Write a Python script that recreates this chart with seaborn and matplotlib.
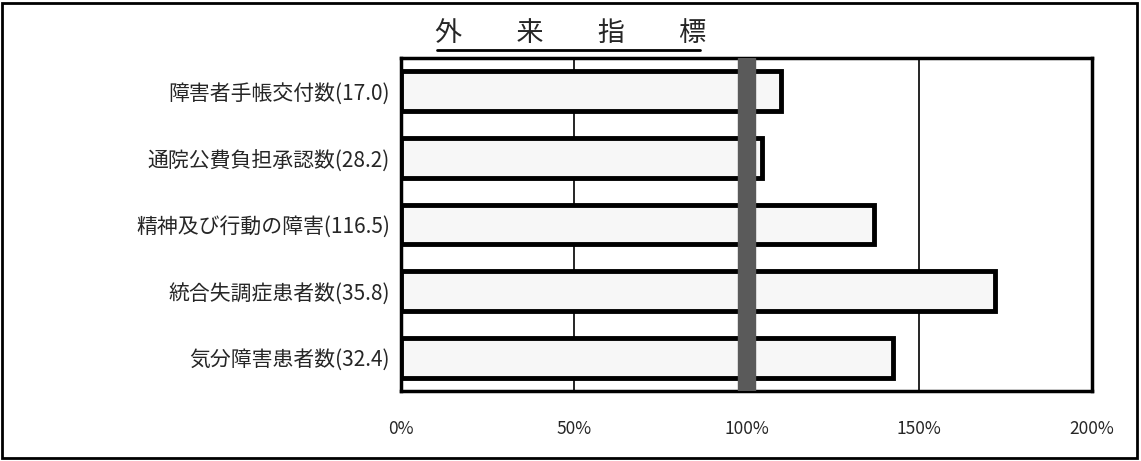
import pandas as pd
import matplotlib.pyplot as plt
import seaborn as sns
from matplotlib.lines import Line2D
from matplotlib.patches import Rectangle

sns.set_style('white')
plt.rcParams['font.family'] = ['Noto Sans CJK JP', 'DejaVu Sans']

# 項目と指標値(%)
labels = ['障害者手帳交付数(17.0)', '通院公費負担承認数(28.2)', '精神及び行動の障害(116.5)',
          '統合失調症患者数(35.8)', '気分障害患者数(32.4)']
values = [110, 104.5, 137, 172, 142.5]
ticks = [0, 50, 100, 150, 200]

df = pd.DataFrame({'項目': labels, '値': values})

W, H = 1141, 461
fig = plt.figure(figsize=(W / 100, H / 100), dpi=100)
ax = fig.add_axes([401 / W, 1 - 391 / H, 691 / W, 333 / H])

sns.barplot(data=df, x='値', y='項目', ax=ax, color='#f7f7f7', edgecolor='black',
            linewidth=3.5, width=0.6, orient='h', saturation=1)

# 100% の基準帯
ax.axvspan(97.5, 102.5, color='#5a5a5a', zorder=5)
for x in [50, 150]:
    ax.axvline(x, color='black', lw=1.2, zorder=0)

ax.set_xlim(0, 200)
ax.set_xticks(ticks)
ax.set_xticklabels([f'{t}%' for t in ticks], fontsize=12.5)
ax.tick_params(axis='x', length=0, pad=21)
ax.tick_params(axis='y', length=0, pad=8, labelsize=15)
ax.set_xlabel('')
ax.set_ylabel('')
for s in ax.spines.values():
    s.set_linewidth(2.5)
    s.set_color('black')

# タイトル(下線付き)
fig.text(0.5, 1 - 33 / H, '外　　来　　指　　標', ha='center', va='center', fontsize=19.5)
fig.add_artist(Line2D([437 / W, 700 / W], [1 - 50 / H, 1 - 50 / H], color='black', lw=2))

# 外枠
fig.add_artist(Rectangle((2 / W, 3 / H), 1135 / W, 455 / H, fill=False, edgecolor='black',
                         lw=2, transform=fig.transFigure))

fig.savefig('out.png', dpi=100)
